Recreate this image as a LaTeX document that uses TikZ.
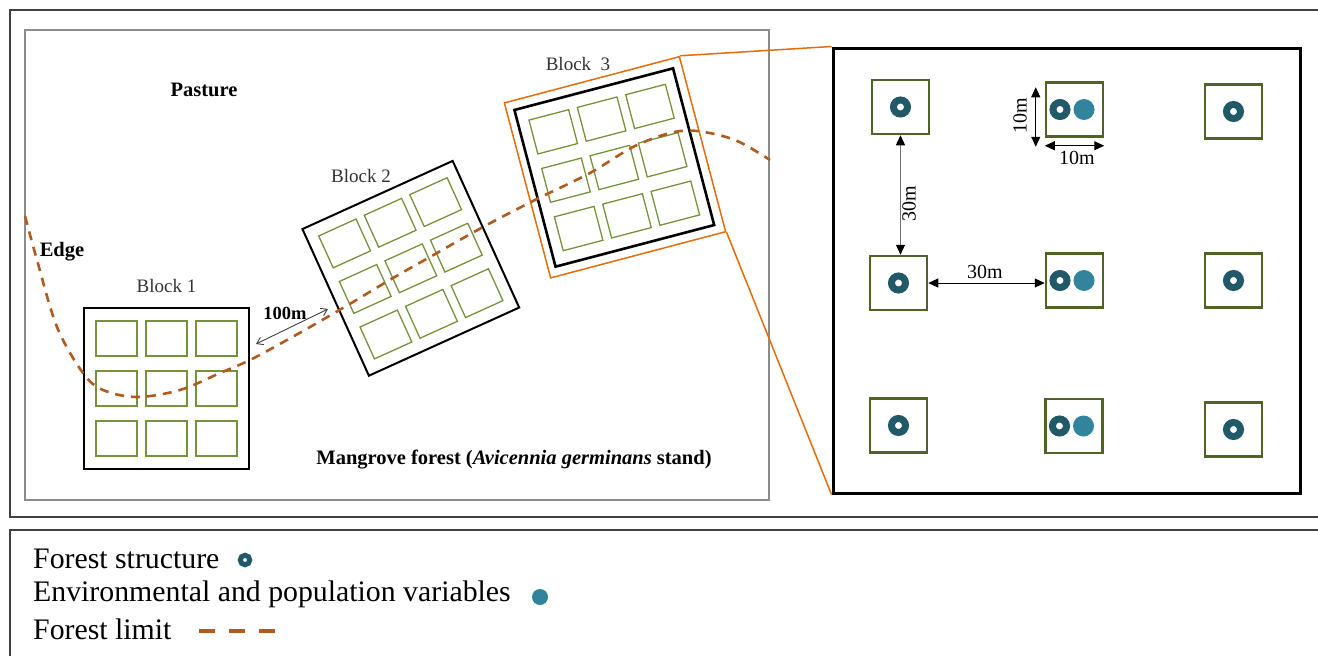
\documentclass[tikz,border=0pt]{standalone}
\usepackage{fontspec}
\setmainfont{Liberation Serif}
\usepackage{xcolor}
\definecolor{plotgreen}{HTML}{4F6228}
\definecolor{subgreen}{HTML}{76923C}
\definecolor{zoomorange}{HTML}{E46C0A}
\definecolor{limitbrown}{HTML}{B25A1E}
\definecolor{structcol}{HTML}{215968}
\definecolor{envcol}{HTML}{31849B}
\usepackage{tikz}
\usetikzlibrary{calc}
\usetikzlibrary{arrows.meta}
\usetikzlibrary{positioning}

\begin{document}
\begin{tikzpicture}[x=1pt,y=-1pt,
    frame/.style={draw=black!75,line width=1.5pt},
    blockbox/.style={draw=black,line width=2pt,minimum width=165pt,minimum height=161pt,inner sep=0},
    zoombox/.style={draw=zoomorange,line width=1.5pt,minimum size=181pt,inner sep=0},
    plotbox/.style={draw=plotgreen,line width=2.5pt,minimum width=57pt,minimum height=54pt,inner sep=0},
    subplot/.style={draw=subgreen,line width=1.3pt},
    structmark/.style={circle,draw=structcol,line width=7pt,minimum size=14pt,inner sep=0},
    envmark/.style={circle,fill=envcol,minimum size=21pt,inner sep=0},
    dimarrow/.style={{Triangle[length=10pt,width=9pt,color=black]}-{Triangle[length=10pt,width=9pt,color=black]},line width=1pt},
    gaparrow/.style={{Straight Barb[length=6pt,width=8pt]}-{Straight Barb[length=6pt,width=8pt]},draw=black!75,line width=0.9pt},
    maplabel/.style={font=\fontsize{20.5}{24}\selectfont\bfseries},
    blocklabel/.style={font=\fontsize{19}{22}\selectfont,text=black!80},
    dimlabel/.style={font=\fontsize{20}{24}\selectfont,inner sep=1pt},
    legtext/.style={font=\fontsize{29.8}{34}\selectfont,anchor=west,inner sep=0},
    forestlimit/.style={draw=limitbrown,line width=2.6pt,dash pattern=on 9pt off 7pt}]
  \useasboundingbox (0,0) rectangle (1318,656);
  \clip (0,0) rectangle (1318,656);

  % frames
  \draw[frame] (10,10) rectangle (1340,517);
  \draw[frame] (10,530) rectangle (1340,680);
  \draw[draw=black!45,line width=1.2pt] (25,30) rectangle (769,500);

  % map texts
  \node[maplabel] (pasture) at (204,90) {Pasture};
  \node[maplabel] (edge) at (62,252) {Edge};
  \node[maplabel] (stand) at (514,460) {Mangrove forest (\textit{Avicennia germinans} stand)};

  % blocks
  \node[blockbox] (block1) at (166.5,388.5) {};
  \node[blockbox,rotate=24.4] (block2) at (410.8,268.3) {};
  \node[zoombox,rotate=14.8] (zoom) at (615,167.3) {};
  \node[blockbox,line width=2.6pt,minimum width=164pt,minimum height=162pt,rotate=14.7] (block3) at (614.3,167.5) {};
  \foreach \blk/\ang in {block1/0,block2/24.4,block3/14.7} {
    \begin{scope}[shift={(\blk.center)},rotate=\ang]
      \foreach \i in {-1,0,1}
        \foreach \j in {-1,0,1}
          \draw[subplot] (\i*50-20.5,\j*50-17.5) rectangle ++(41,35);
    \end{scope}
  }
  \node[blocklabel,above=11pt of block1] (lab1) {Block 1};
  \node[blocklabel] (lab2) at (361,176) {Block 2};
  \node[blocklabel] (lab3) at (578,64) {Block\ \ 3};

  % distance between blocks
  \coordinate (gapA) at (256,344);
  \coordinate (gapB) at (328,309);
  \draw[gaparrow] (gapA) -- (gapB);
  \node[maplabel,font=\fontsize{18.5}{22}\selectfont\bfseries] (gaplab) at (285,313) {100m};

  % forest limit
  \draw[forestlimit] plot[smooth,tension=0.55] coordinates {(25,216) (37,260) (57,327) (83,373) (103,390) (137,397) (180,390) (220,373) (250,360) (287,340) (317,323) (348,305) (393,278) (430,257) (483,227) (537,199) (590,173) (633,147) (670,133) (697,131) (735,140) (770,160)};

  % zoom on block 3
  \node[draw,line width=3pt,minimum width=467pt,minimum height=445pt,inner sep=0] (panel) at (1066.5,270.5) {};
  \draw[draw=zoomorange,line width=1.5pt] (zoom.north east) -- (panel.north west);
  \draw[draw=zoomorange,line width=1.5pt] (zoom.south east) -- (panel.south west);

  % plots
  \node[plotbox] (plot11) at (900.5,107) {};
  \node[plotbox] (plot12) at (1074.5,109.5) {};
  \node[plotbox] (plot13) at (1233.5,111.5) {};
  \node[plotbox] (plot21) at (898.5,283) {};
  \node[plotbox] (plot22) at (1074.5,280.5) {};
  \node[plotbox] (plot23) at (1233.5,280.5) {};
  \node[plotbox] (plot31) at (898.5,425.5) {};
  \node[plotbox] (plot32) at (1074,426) {};
  \node[plotbox] (plot33) at (1233.5,429.5) {};
  \foreach \p in {plot11,plot13,plot21,plot23,plot31,plot33}
    \node[structmark] (\p-s) at (\p.center) {};
  \foreach \p in {plot12,plot22,plot32} {
    \node[structmark] (\p-s) at ([xshift=-14.5pt]\p.center) {};
    \node[envmark] (\p-e) at ([xshift=9.5pt]\p.center) {};
  }

  % dimensions
  \draw[dimarrow,draw=black!55,line width=1.3pt] (plot11.south) -- (plot11.south |- plot21.north);
  \node[dimlabel,rotate=90] (d30v) at (909,204) {30m};
  \draw[dimarrow] (plot21.east) -- (plot21.east -| plot22.west);
  \node[dimlabel] (d30h) at (985,272) {30m};
  \draw[dimarrow] ([xshift=-9pt,yshift=-6pt]plot12.north west) -- ([xshift=-9pt,yshift=-9pt]plot12.south west);
  \node[dimlabel,rotate=90] (d10v) at (1020,116) {10m};
  \draw[dimarrow] ([yshift=-8pt]plot12.south west) -- ([yshift=-8pt]plot12.south east);
  \node[dimlabel] (d10h) at (1077,158) {10m};

  % legend
  \node[legtext] (legstruct) at (33,559) {Forest structure};
  \node[structmark,line width=5pt,minimum size=9.5pt] (legring) at (245,560) {};
  \node[legtext] (legenv) at (33,594) {Environmental and population variables};
  \node[envmark,minimum size=16pt] (legfill) at (540,597) {};
  \node[legtext] (leglimit) at (33,629) {Forest limit};
  \coordinate (limA) at (199,631);
  \coordinate (limB) at (276,631);
  \draw[forestlimit,line width=3.5pt,dash pattern=on 16pt off 14pt] (limA) -- (limB);
\end{tikzpicture}
\end{document}
